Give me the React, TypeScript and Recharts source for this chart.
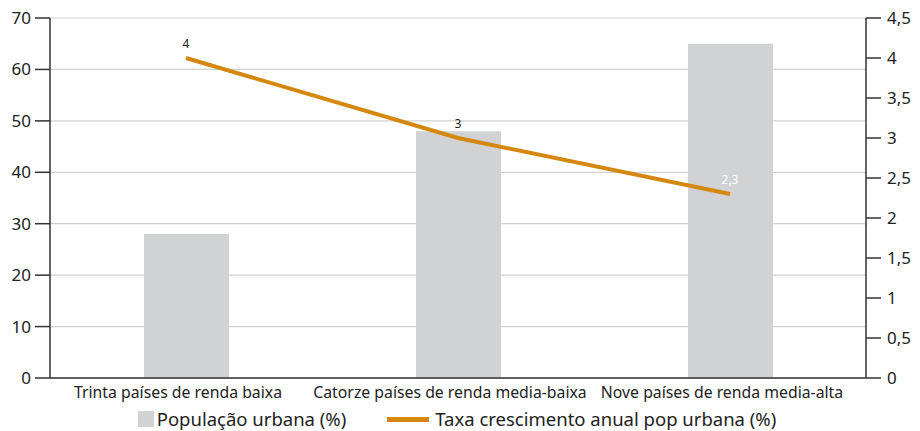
import { ComposedChart, Bar, Line, XAxis, YAxis, CartesianGrid, Legend, LabelList } from "recharts";

const categories = ["Trinta países de renda baixa", "Catorze países de renda media-baixa", "Nove países de renda media-alta"];
const popUrbana = [28, 48, 65];
const taxaCrescimento = [4, 3, 2.3];
const leftTicks = [0, 10, 20, 30, 40, 50, 60, 70];
const rightTicks = [0, 0.5, 1, 1.5, 2, 2.5, 3, 3.5, 4, 4.5];

const data = categories.map((c, i) => ({ name: c, pop: popUrbana[i], taxa: taxaCrescimento[i] }));

const FONT = "'Noto Sans', 'Open Sans', sans-serif";
const BAR = "#d1d2d4";
const LINE = "#d4880f";
const AXIS = "#333333";

const fmt = (v: number) => String(v).replace(".", ",");

function PointLabel(props: any) {
    const { x, y, value, index } = props;
    return (
        <text x={x} y={y - 10} textAnchor="middle" fontSize={12} fontFamily={FONT} fill={index === 2 ? "#ffffff" : "#222"}>
            {fmt(value)}
        </text>
    );
}

function LegendBox() {
    return (
        <div style={{ display: "flex", justifyContent: "center", alignItems: "center", fontFamily: FONT, fontSize: 18.5, lineHeight: "18px", color: "#222", paddingTop: 8, paddingRight: 6 }}>
            <span style={{ display: "inline-block", width: 16, height: 16, background: BAR, marginRight: 3 }} />
            <span>População urbana (%)</span>
            <span style={{ display: "inline-block", width: 42, height: 5, background: LINE, marginLeft: 41, marginRight: 6 }} />
            <span>Taxa crescimento anual pop urbana (%)</span>
        </div>
    );
}

export default function App() {
    return (
        <div style={{ position: "absolute", left: 0, top: 0, background: "#fff" }}>
            <ComposedChart width={920} height={431} data={data} margin={{ top: 18, right: 0, left: 0, bottom: 0 }}>
                <CartesianGrid vertical={false} stroke="#d0d0d0" strokeWidth={1.2} yAxisId="left" />
                <XAxis
                    dataKey="name"
                    tickLine={false}
                    axisLine={{ stroke: AXIS, strokeWidth: 1.5 }}
                    tick={{ fontSize: 15.8, fontFamily: FONT, fill: "#222", dx: -8 }}
                    tickMargin={3}
                    interval={0}
                    height={24}
                />
                <YAxis
                    yAxisId="left"
                    domain={[0, 70]}
                    ticks={leftTicks}
                    width={50}
                    tickSize={15}
                    tickMargin={4}
                    tickLine={{ stroke: AXIS, strokeWidth: 1.5 }}
                    axisLine={{ stroke: AXIS, strokeWidth: 1.5 }}
                    tick={{ fontSize: 17, fontFamily: FONT, fill: "#222" }}
                />
                <YAxis
                    yAxisId="right"
                    orientation="right"
                    domain={[0, 4.5]}
                    ticks={rightTicks}
                    width={54}
                    tickSize={15}
                    tickMargin={6}
                    tickFormatter={fmt}
                    tickLine={{ stroke: AXIS, strokeWidth: 1.5 }}
                    axisLine={{ stroke: AXIS, strokeWidth: 1.5 }}
                    tick={{ fontSize: 17, fontFamily: FONT, fill: "#222", textAnchor: "start" }}
                />
                <Legend verticalAlign="bottom" height={29} content={() => <LegendBox />} />
                <Bar yAxisId="left" dataKey="pop" fill={BAR} barSize={85} isAnimationActive={false} />
                <Line
                    yAxisId="right"
                    dataKey="taxa"
                    type="linear"
                    stroke={LINE}
                    strokeWidth={4}
                    dot={false}
                    activeDot={false}
                    isAnimationActive={false}
                >
                    <LabelList dataKey="taxa" content={<PointLabel />} />
                </Line>
            </ComposedChart>
        </div>
    );
}
